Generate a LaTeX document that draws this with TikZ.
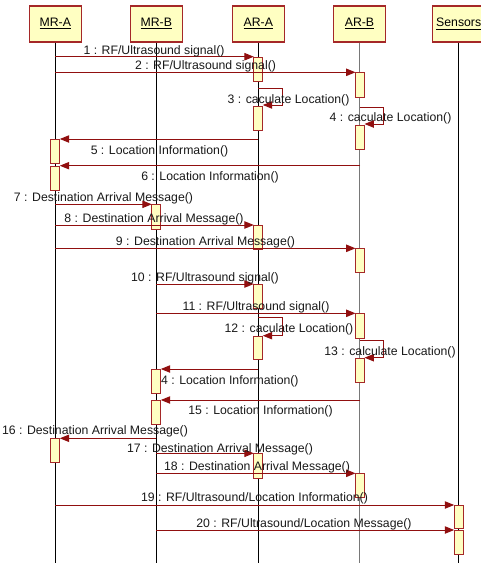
\documentclass[tikz,border=0pt]{standalone}
\usepackage{fontspec}
\setmainfont{Liberation Sans}
\usetikzlibrary{arrows.meta}
\definecolor{boxfill}{RGB}{255,255,194}
\definecolor{boxline}{RGB}{165,40,40}
\definecolor{msgline}{RGB}{145,15,15}
\definecolor{greyline}{RGB}{120,120,120}
\begin{document}
\begin{tikzpicture}[x=0.75pt,y=-0.75pt,
  headbox/.style={draw=boxline, fill=boxfill, line width=0.9pt, minimum width=39pt, minimum height=27pt, inner sep=0pt, font=\fontsize{9.2pt}{11pt}\selectfont},
  life/.style={line width=0.75pt, black},
  greylife/.style={line width=1pt, greyline},
  actbox/.style={draw=boxline, fill=boxfill, line width=0.75pt, minimum width=6.75pt, inner sep=0pt, anchor=north},
  msg/.style={draw=msgline, line width=0.75pt, -{Triangle[length=7pt,width=5.5pt]}},
  lbl/.style={anchor=base, inner sep=0pt, font=\fontsize{9.2pt}{11pt}\selectfont, text=black!90}
]
\useasboundingbox (0,0) rectangle (481,564);
\coordinate (bot) at (0,563);

% heads
\node[headbox] (hA) at (55.3,24) {\underline{MR-A}};
\node[headbox] (hB) at (156.3,24) {\underline{MR-B}};
\node[headbox] (hC) at (258.3,24) {\underline{AR-A}};
\node[headbox] (hD) at (359.5,24) {\underline{AR-B}};
\node[headbox] (hE) at (458.7,24) {\underline{Sensors}};

% lifelines
\draw[life] (hA.south) -- (hA.south |- bot);
\draw[life] (hB.south) -- (hB.south |- bot);
\draw[life] (hC.south) -- (hC.south |- bot);
\draw[greylife] (hD.south) -- (hD.south |- bot);
\draw[life] (hE.south) -- (hE.south |- bot);

% 1
\coordinate (m1a) at (55.3,56.7); \coordinate (m1b) at (253.8,56.7);
\draw[msg] (m1a) -- (m1b);
\node[lbl] (t1) at (154,54.5) {1 : RF/Ultrasound signal()};
\node[actbox, minimum height=24*0.75pt] (a1) at (258.3,56.7) {};
% 2
\coordinate (m2a) at (55.3,72.3); \coordinate (m2b) at (355.5,72.3);
\draw[msg] (m2a) -- (m2b);
\node[lbl] (t2) at (205.5,69.5) {2 : RF/Ultrasound signal()};
\node[actbox, minimum height=25*0.75pt] (a2) at (360,72.3) {};
% 3
\coordinate (l3a) at (258.3,88); \coordinate (l3b) at (282,88);
\coordinate (l3c) at (282,105); \coordinate (l3d) at (262.8,105);
\draw[msg] (l3a) -- (l3b) -- (l3c) -- (l3d);
\node[lbl] (t3) at (288.5,103.5) {3 : caculate Location()};
\node[actbox, minimum height=24*0.75pt] (a3) at (258.3,106) {};
% 4
\coordinate (l4a) at (360,107); \coordinate (l4b) at (383,107);
\coordinate (l4c) at (383,124); \coordinate (l4d) at (364.5,124);
\draw[msg] (l4a) -- (l4b) -- (l4c) -- (l4d);
\node[lbl] (t4) at (390.5,121.5) {4 : caculate Location()};
\node[actbox, minimum height=24*0.75pt] (a4) at (360,125) {};
% 5
\coordinate (m5a) at (258.3,139); \coordinate (m5b) at (59.8,139);
\draw[msg] (m5a) -- (m5b);
\node[lbl] (t5) at (159.5,154.5) {5 : Location Information()};
\node[actbox, minimum height=24*0.75pt] (a5) at (55.3,139) {};
% 6
\coordinate (m6a) at (360,165.7); \coordinate (m6b) at (59.8,165.7);
\draw[msg] (m6a) -- (m6b);
\node[lbl] (t6) at (210,180.5) {6 : Location Information()};
\node[actbox, minimum height=24*0.75pt] (a6) at (55.3,165.7) {};
% 7
\coordinate (m7a) at (55.3,204.3); \coordinate (m7b) at (151.8,204.3);
\draw[msg] (m7a) -- (m7b);
\node[lbl] (t7) at (103.5,201.2) {7 : Destination Arrival Message()};
\node[actbox, minimum height=24.4*0.75pt] (a7) at (156.3,204.3) {};
% 8
\coordinate (m8a) at (55.3,225); \coordinate (m8b) at (253.8,225);
\draw[msg] (m8a) -- (m8b);
\node[lbl] (t8) at (154,222.2) {8 : Destination Arrival Message()};
\node[actbox, minimum height=24*0.75pt] (a8) at (258.3,225) {};
% 9
\coordinate (m9a) at (55.3,248.3); \coordinate (m9b) at (355.5,248.3);
\draw[msg] (m9a) -- (m9b);
\node[lbl] (t9) at (205.5,245.2) {9 : Destination Arrival Message()};
\node[actbox, minimum height=24*0.75pt] (a9) at (360,248.3) {};
% 10
\coordinate (m10a) at (156.3,284); \coordinate (m10b) at (253.8,284);
\draw[msg] (m10a) -- (m10b);
\node[lbl] (t10) at (205,281.2) {10 : RF/Ultrasound signal()};
\node[actbox, minimum height=24*0.75pt] (a10) at (258.3,284) {};
% 11
\coordinate (m11a) at (156.3,313.3); \coordinate (m11b) at (355.5,313.3);
\draw[msg] (m11a) -- (m11b);
\node[lbl] (t11) at (256,310.2) {11 : RF/Ultrasound signal()};
\node[actbox, minimum height=24.4*0.75pt] (a11) at (360,313.3) {};
% 12
\coordinate (l12a) at (258.3,317.3); \coordinate (l12b) at (282,317.3);
\coordinate (l12c) at (282,335.7); \coordinate (l12d) at (262.8,335.7);
\draw[msg] (l12a) -- (l12b) -- (l12c) -- (l12d);
\node[lbl] (t12) at (289,332.8) {12 : caculate Location()};
\node[actbox, minimum height=23.3*0.75pt] (a12) at (258.3,336) {};
% 13
\coordinate (l13a) at (360,340.7); \coordinate (l13b) at (383,340.7);
\coordinate (l13c) at (383,357.7); \coordinate (l13d) at (364.5,357.7);
\draw[msg] (l13a) -- (l13b) -- (l13c) -- (l13d);
\node[lbl] (t13) at (390,355.2) {13 : calculate Location()};
\node[actbox, minimum height=24*0.75pt] (a13) at (360,358) {};
% 14
\coordinate (m14a) at (258.3,369); \coordinate (m14b) at (160.8,369);
\draw[msg] (m14a) -- (m14b);
\node[lbl, anchor=base west] (t14) at (154,384.5) {14 : Location Information()};
\node[actbox, minimum height=24*0.75pt] (a14) at (156.3,369) {};
% 15
\coordinate (m15a) at (360,400); \coordinate (m15b) at (160.8,400);
\draw[msg] (m15a) -- (m15b);
\node[lbl] (t15) at (260.5,414.5) {15 : Location Information()};
\node[actbox, minimum height=24*0.75pt] (a15) at (156.3,400) {};
% 16
\coordinate (m16a) at (156.3,438.3); \coordinate (m16b) at (59.8,438.3);
\draw[msg] (m16a) -- (m16b);
\node[lbl] (t16) at (95,434.5) {16 : Destination Arrival Message()};
\node[actbox, minimum height=24*0.75pt] (a16) at (55.3,438.3) {};
% 17
\coordinate (m17a) at (156.3,453.3); \coordinate (m17b) at (253.8,453.3);
\draw[msg] (m17a) -- (m17b);
\node[lbl] (t17) at (220,452.8) {17 : Destination Arrival Message()};
\node[actbox, minimum height=24.4*0.75pt] (a17) at (258.3,453.3) {};
% 18
\coordinate (m18a) at (156.3,473.3); \coordinate (m18b) at (355.5,473.3);
\draw[msg] (m18a) -- (m18b);
\node[lbl] (t18) at (257,470.5) {18 : Destination Arrival Message()};
\node[actbox, minimum height=23.4*0.75pt] (a18) at (360,473.3) {};
% 19
\coordinate (m19a) at (55.3,505); \coordinate (m19b) at (454.2,505);
\draw[msg] (m19a) -- (m19b);
\node[lbl] (t19) at (254.5,501.8) {19 : RF/Ultrasound/Location Information()};
\node[actbox, minimum height=23.3*0.75pt] (a19) at (458.7,505) {};
% 20
\coordinate (m20a) at (156.3,530); \coordinate (m20b) at (454.2,530);
\draw[msg] (m20a) -- (m20b);
\node[lbl] (t20) at (304,527.8) {20 : RF/Ultrasound/Location Message()};
\node[actbox, minimum height=24.3*0.75pt] (a20) at (458.7,530) {};
\end{tikzpicture}
\end{document}
